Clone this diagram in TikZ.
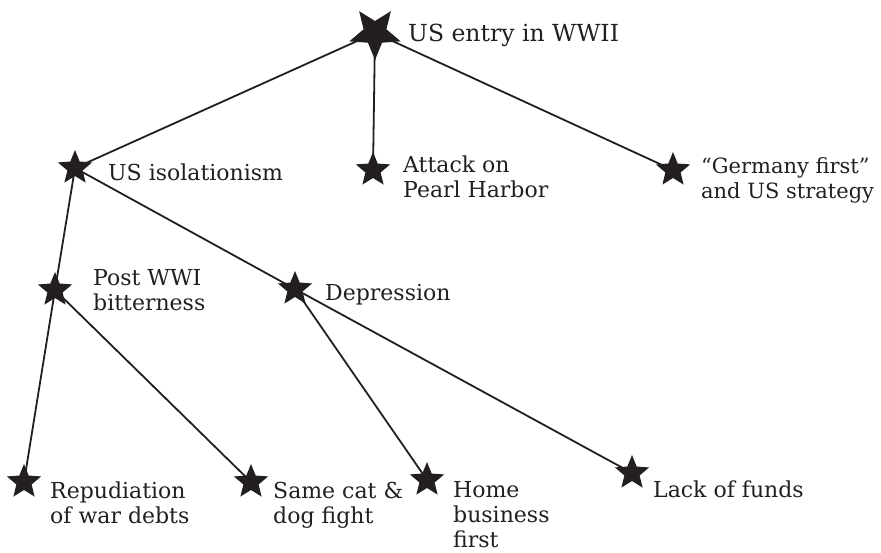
\documentclass[tikz,border=0pt]{standalone}
\usepackage{fontspec}
\setmainfont{DejaVu Serif}
\usetikzlibrary{shapes.geometric}
\definecolor{ink}{HTML}{231F20}
\tikzset{
  starnode/.style={star, star points=5, star point ratio=2.25, fill=ink, draw=none,
    inner sep=0pt, minimum size=36pt},
  rootstar/.style={starnode, minimum size=54pt, shape border rotate=180},
  link/.style={draw=ink, line width=1.8pt},
  % base west of a multi-line label sits on its last line
  tag/.style={anchor=base west, inner sep=0pt, text=ink, align=left,
    font=\fontsize{22}{25}\selectfont},
  roottag/.style={tag, font=\fontsize{23.5}{27}\selectfont}
}
\begin{document}
\begin{tikzpicture}[x=1pt,y=-1pt]
\useasboundingbox (0,0) rectangle (881,552);
% star positions
\coordinate (pRoot) at (375,33);
\coordinate (pIso)  at (75,168);
\coordinate (pPearl) at (373,170);
\coordinate (pGer)  at (673,170);
\coordinate (pPost) at (55,290);
\coordinate (pDep)  at (295,289);
\coordinate (pRep)  at (24,482);
\coordinate (pCat)  at (251,482);
\coordinate (pHome) at (427,480);
\coordinate (pFunds) at (632,473);
% connectors, drawn first so the stars sit on top
\path[link] (pRoot) -- (pIso);
\path[link] (pRoot) -- (pPearl);
\path[link] (pRoot) -- (pGer);
\path[link] (pIso) -- (pPost);
\path[link] (pIso) -- (pDep);
\path[link] (pPost) -- (pRep);
\path[link] (pPost) -- (pCat);
\path[link] (pDep) -- (pHome);
\path[link] (pDep) -- (pFunds);
% stars
\node[rootstar] (root) at (pRoot) {};
\node[starnode] (iso) at (pIso) {};
\node[starnode] (pearl) at (pPearl) {};
\node[starnode] (ger) at (pGer) {};
\node[starnode] (post) at (pPost) {};
\node[starnode] (dep) at (pDep) {};
\node[starnode] (rep) at (pRep) {};
\node[starnode] (cat) at (pCat) {};
\node[starnode] (home) at (pHome) {};
\node[starnode] (funds) at (pFunds) {};
% labels
\node[roottag] (tRoot) at (408,41) {US entry in WWII};
\node[tag] (tIso) at (108,180) {US isolationism};
\node[tag] (tPearl) at (403,197) {Attack on\\Pearl Harbor};
\node[tag, font=\fontsize{21}{25}\selectfont] (tGer) at (701,198) {“Germany first”\\and US strategy};
\node[tag] (tPost) at (93,310) {Post WWI\\bitterness};
\node[tag] (tDep) at (325,300) {Depression};
\node[tag] (tRep) at (50,523) {Repudiation\\of war debts};
\node[tag] (tCat) at (273,523) {Same cat \&\\dog fight};
\node[tag] (tHome) at (453,547) {Home\\business\\first};
\node[tag] (tFunds) at (653,497) {Lack of funds};
\end{tikzpicture}
\end{document}
